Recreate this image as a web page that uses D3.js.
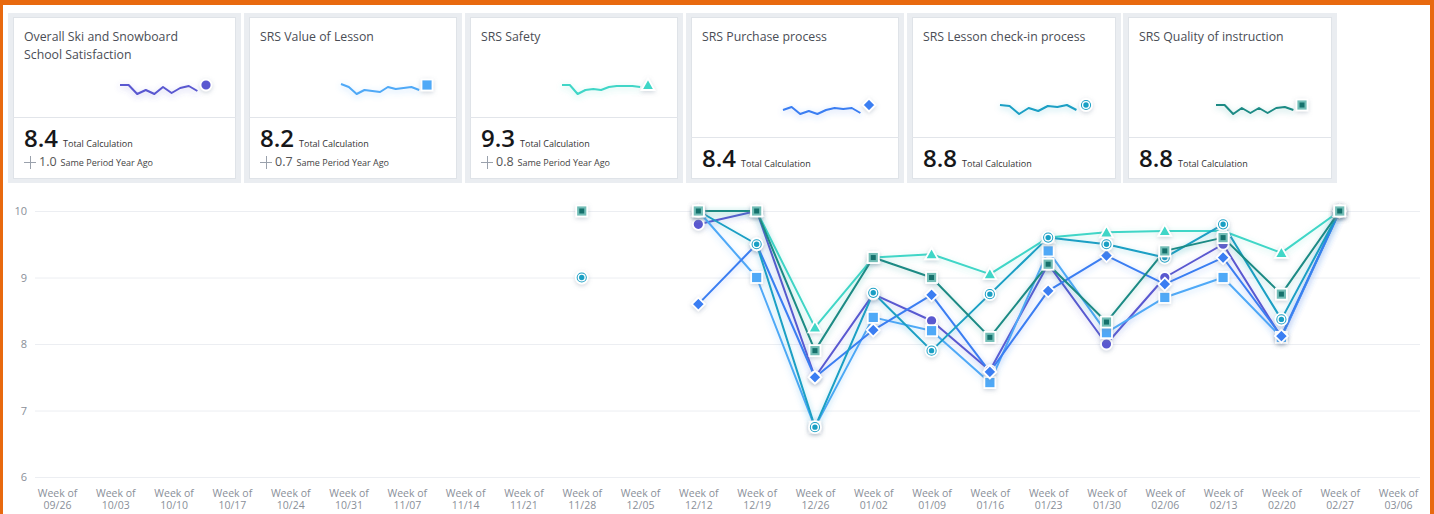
<!DOCTYPE html>
<html>
<head>
<meta charset="utf-8">
<script src="https://cdn.jsdelivr.net/npm/d3@7"></script>
<style>
	html, body { margin: 0; padding: 0; background: #e8690f; }
	svg { display: block; }
	text { font-family: "Open Sans", sans-serif; }
</style>
</head>
<body>
<svg id="chart" width="1434" height="514"></svg>
<script>
// ---- data ----
var weeks = [ "09/26", "10/03", "10/10", "10/17", "10/24", "10/31", "11/07", "11/14", "11/21", "11/28", "12/05", "12/12",
              "12/19", "12/26", "01/02", "01/09", "01/16", "01/23", "01/30", "02/06", "02/13", "02/20", "02/27", "03/06" ];

var y_ticks = [ 6, 7, 8, 9, 10 ];

var overall  = [ null, null, null, null, null, null, null, null, null, null, null, 9.8, 10,  7.5,  8.75, 8.35, 7.6,  9.2, 8.0,  9.0, 9.5, 8.1,  10, null ];
var value    = [ null, null, null, null, null, null, null, null, null, null, null, 10,  9.0, 6.75, 8.4,  8.2,  7.42, 9.4, 8.17, 8.7, 9.0, 8.1,  10, null ];
var safety   = [ null, null, null, null, null, null, null, null, null, null, null, 10,  10,  8.25, 9.3,  9.35, 9.05, 9.6, 9.68, 9.7, 9.7, 9.37, 10, null ];
var purchase = [ null, null, null, null, null, null, null, null, null, null, null, 8.6, 9.5, 7.5,  8.21, 8.74, 7.58, 8.8, 9.33, 8.9, 9.3, 8.12, 10, null ];
var checkin  = [ null, null, null, null, null, null, null, null, null, 9.0,  null, 10,  9.5, 6.75, 8.77, 7.9,  8.75, 9.6, 9.5,  9.3, 9.8, 8.37, 10, null ];
var quality  = [ null, null, null, null, null, null, null, null, null, 10,   null, 10,  10,  7.9,  9.3,  9.0,  8.1,  9.2, 8.33, 9.4, 9.6, 8.75, 10, null ];

var titles   = [ [ "Overall Ski and Snowboard", "School Satisfaction" ], [ "SRS Value of Lesson" ], [ "SRS Safety" ],
                 [ "SRS Purchase process" ], [ "SRS Lesson check-in process" ], [ "SRS Quality of instruction" ] ];
var totals   = [ "8.4", "8.2", "9.3", "8.4", "8.8", "8.8" ];
var year_ago = [ "1.0", "0.7", "0.8", null, null, null ];

// card sparklines (shape only)
var spark_overall  = [ 9.0, 9.0, 8.1, 8.5, 8.1, 8.8, 8.2, 8.7, 8.9, 8.4, 9.0 ];
var spark_value    = [ 9.1, 8.8, 8.1, 8.5, 8.4, 8.3, 8.8, 8.6, 8.7, 8.8, 8.5, 9.0 ];
var spark_safety   = [ 9.0, 9.0, 8.1, 8.5, 8.6, 8.5, 8.8, 8.9, 8.9, 8.9, 8.8, 9.0 ];
var spark_purchase = [ 8.5, 8.8, 8.1, 8.4, 8.1, 8.5, 8.7, 8.6, 8.7, 8.2, 9.0 ];
var spark_checkin  = [ 9.0, 8.9, 8.1, 8.7, 8.4, 8.9, 8.8, 9.0, 8.5, 9.0 ];
var spark_quality  = [ 9.0, 9.0, 8.1, 8.7, 8.2, 8.7, 8.2, 8.7, 8.8, 8.5, 9.0 ];

var series = [
	{ values : overall,  spark : spark_overall,  color : "#5a58d0", marker : "circle"   },
	{ values : value,    spark : spark_value,    color : "#4fa9f7", marker : "square"   },
	{ values : safety,   spark : spark_safety,   color : "#3fd6c7", marker : "triangle" },
	{ values : purchase, spark : spark_purchase, color : "#3b7ef2", marker : "diamond"  },
	{ values : checkin,  spark : spark_checkin,  color : "#1a9fc4", marker : "ring"     },
	{ values : quality,  spark : spark_quality,  color : "#1b8a84", marker : "boxed"    }
];

// ---- layout ----
var card_inner = [ [ 13, 236 ], [ 249, 457 ], [ 470, 678 ], [ 691, 899 ], [ 912, 1116 ], [ 1128, 1332 ] ];

var svg = d3.select( "#chart" );
var defs = svg.append( "defs" );

svg.append( "rect" )
	.attr( "x", 3 ).attr( "y", 5 )
	.attr( "width", 1427 ).attr( "height", 520 )
	.attr( "fill", "#ffffff" );

series.forEach(function( s, i ){
	defs.append( "filter" )
		.attr( "id", "glow" + i )
		.attr( "filterUnits", "userSpaceOnUse" )
		.attr( "x", 0 ).attr( "y", 0 ).attr( "width", 1434 ).attr( "height", 514 )
		.append( "feDropShadow" )
			.attr( "dx", 0 ).attr( "dy", 2 )
			.attr( "stdDeviation", 3 )
			.attr( "flood-color", s.color )
			.attr( "flood-opacity", 0.35 );
});

// marker shadow, in the marker's own coordinates
defs.append( "filter" )
	.attr( "id", "mshadow" )
	.attr( "filterUnits", "userSpaceOnUse" )
	.attr( "x", -20 ).attr( "y", -20 ).attr( "width", 40 ).attr( "height", 40 )
	.append( "feDropShadow" )
		.attr( "dx", 0 ).attr( "dy", 1.5 )
		.attr( "stdDeviation", 2 )
		.attr( "flood-color", "#7a8aa0" )
		.attr( "flood-opacity", 0.35 );

function draw_marker( g, s, x, y ){
	var m = g.append( "g" )
		.attr( "transform", "translate(" + x + "," + y + ")" )
		.append( "g" )
		.attr( "filter", "url(#mshadow)" );
	var el;
	if( s.marker == "circle" ){
		el = m.append( "circle" ).attr( "r", 5.5 ).attr( "fill", s.color );
	}
	else if( s.marker == "square" ){
		el = m.append( "rect" ).attr( "x", -5.5 ).attr( "y", -5.5 ).attr( "width", 11 ).attr( "height", 11 ).attr( "fill", s.color );
	}
	else if( s.marker == "triangle" ){
		el = m.append( "path" ).attr( "d", "M0,-6.5L6.5,5L-6.5,5Z" ).attr( "fill", s.color );
	}
	else if( s.marker == "diamond" ){
		el = m.append( "path" ).attr( "d", "M0,-6.5L6.5,0L0,6.5L-6.5,0Z" ).attr( "fill", s.color );
	}
	else if( s.marker == "ring" ){
		el = m.append( "circle" ).attr( "r", 6 ).attr( "fill", s.color );
	}
	else {
		el = m.append( "rect" ).attr( "x", -5.5 ).attr( "y", -5.5 ).attr( "width", 11 ).attr( "height", 11 ).attr( "fill", "#72bdb6" );
	}
	el.attr( "stroke", "#ffffff" ).attr( "stroke-width", 1.8 );

	if( s.marker == "ring" ){
		m.append( "circle" ).attr( "r", 3.4 ).attr( "fill", "none" ).attr( "stroke", "#ffffff" ).attr( "stroke-width", 1.4 );
		m.append( "circle" ).attr( "r", 1.3 ).attr( "fill", s.color );
	}
	if( s.marker == "boxed" ){
		m.append( "rect" ).attr( "x", -2.5 ).attr( "y", -2.5 ).attr( "width", 5 ).attr( "height", 5 ).attr( "fill", "#14716c" );
	}
}

// ---- cards ----
card_inner.forEach(function( c, i ){
	var s = series[ i ];
	var tall = year_ago[ i ] !== null;
	var g = svg.append( "g" );

	g.append( "rect" )
		.attr( "x", c[0] - 5 ).attr( "y", 13 )
		.attr( "width", c[1] - c[0] + 10 ).attr( "height", 170 )
		.attr( "fill", "#eaedf1" );
	g.append( "rect" )
		.attr( "x", c[0] + 0.5 ).attr( "y", 17.5 )
		.attr( "width", c[1] - c[0] - 1 ).attr( "height", 161 )
		.attr( "fill", "#ffffff" )
		.attr( "stroke", "#dfe3e8" );

	var div_y = tall ? 117.5 : 137.5;
	g.append( "line" )
		.attr( "x1", c[0] ).attr( "x2", c[1] )
		.attr( "y1", div_y ).attr( "y2", div_y )
		.attr( "stroke", "#e2e5ea" );

	titles[ i ].forEach(function( t, k ){
		g.append( "text" )
			.attr( "x", c[0] + 11 ).attr( "y", 41 + k * 18 )
			.attr( "font-size", "12.3px" )
			.attr( "fill", "#4a4d55" )
			.text( t );
	});

	// sparkline
	var mx = c[1] - 30;
	var base = tall ? 85 : 105;
	var sx = d3.scaleLinear().domain([ 0, s.spark.length - 1 ]).range([ mx - 86, mx ]);
	var sy = d3.scaleLinear().domain([ 8, 9 ]).range([ base + 10, base ]);
	g.append( "path" )
		.attr( "d", d3.line().x(function( d, j ){ return sx( j ); }).y(function( d ){ return sy( d ); })( s.spark.slice( 0, -1 ) ) )
		.attr( "fill", "none" )
		.attr( "stroke", s.color )
		.attr( "stroke-width", 2 )
		.attr( "stroke-linejoin", "round" )
		.attr( "filter", "url(#glow" + i + ")" );
	draw_marker( g, s, sx( s.spark.length - 1 ), sy( s.spark[ s.spark.length - 1 ] ) );

	var vy = tall ? 147 : 167;
	var big = g.append( "text" )
		.attr( "x", c[0] + 11 ).attr( "y", vy )
		.attr( "font-size", "24px" )
		.attr( "font-weight", 600 )
		.attr( "fill", "#16171a" )
		.text( totals[ i ] );
	var bw = big.node().getComputedTextLength();
	g.append( "text" )
		.attr( "x", c[0] + 11 + bw + 5 ).attr( "y", vy )
		.attr( "font-size", "9px" )
		.attr( "fill", "#333" )
		.text( "Total Calculation" );

	if( tall ){
		var px = c[0] + 11;
		g.append( "line" ).attr( "x1", px ).attr( "x2", px + 12 ).attr( "y1", 162.5 ).attr( "y2", 162.5 ).attr( "stroke", "#9aa1ac" );
		g.append( "line" ).attr( "x1", px + 6.5 ).attr( "x2", px + 6.5 ).attr( "y1", 156 ).attr( "y2", 169 ).attr( "stroke", "#9aa1ac" );
		var yv = g.append( "text" )
			.attr( "x", px + 15 ).attr( "y", 166 )
			.attr( "font-size", "12.5px" )
			.attr( "fill", "#555" )
			.text( year_ago[ i ] );
		g.append( "text" )
			.attr( "x", px + 15 + yv.node().getComputedTextLength() + 4 ).attr( "y", 166 )
			.attr( "font-size", "9px" )
			.attr( "fill", "#444" )
			.text( "Same Period Year Ago" );
	}
});

// ---- main chart ----
var x = d3.scalePoint().domain( weeks ).range([ 57, 1398 ]);
var y = d3.scaleLinear().domain([ 6, 10 ]).range([ 477, 211 ]);

var y_axis = svg.append( "g" )
	.attr( "transform", "translate(35,0)" )
	.call( d3.axisLeft( y ).tickValues( y_ticks ).tickSize( -1385 ).tickPadding( 8 ).tickFormat( d3.format( "d" ) ) );
y_axis.select( ".domain" ).remove();
y_axis.selectAll( "line" ).attr( "stroke", "#eceef2" );
y_axis.selectAll( "text" )
	.attr( "fill", "#8a8f99" )
	.style( "font-family", "\"Open Sans\", sans-serif" )
	.style( "font-size", "11px" );

var x_axis = svg.append( "g" )
	.attr( "transform", "translate(0,483)" )
	.call( d3.axisBottom( x ).tickSize( 0 ).tickPadding( 0 ) );
x_axis.select( ".domain" ).remove();
x_axis.selectAll( "text" ).each(function( d ){
	var t = d3.select( this ).text( "" ).attr( "y", 0 ).attr( "dy", null )
		.attr( "fill", "#8a8f99" )
		.style( "font-family", "\"Open Sans\", sans-serif" )
		.style( "font-size", "10.5px" );
	t.append( "tspan" ).attr( "x", 0 ).attr( "y", 14 ).text( "Week of" );
	t.append( "tspan" ).attr( "x", 0 ).attr( "y", 26 ).text( d );
});

var line = d3.line()
	.defined(function( d ){ return d !== null; })
	.x(function( d, j ){ return x( weeks[ j ] ); })
	.y(function( d ){ return y( d ); });

series.forEach(function( s, i ){
	svg.append( "path" )
		.attr( "d", line( s.values ) )
		.attr( "fill", "none" )
		.attr( "stroke", s.color )
		.attr( "stroke-width", 2 )
		.attr( "stroke-linejoin", "round" )
		.attr( "filter", "url(#glow" + i + ")" );
});

series.forEach(function( s ){
	var g = svg.append( "g" );
	s.values.forEach(function( v, j ){
		if( v === null ) return;
		draw_marker( g, s, x( weeks[ j ] ), y( v ) );
	});
});
</script>
</body>
</html>
